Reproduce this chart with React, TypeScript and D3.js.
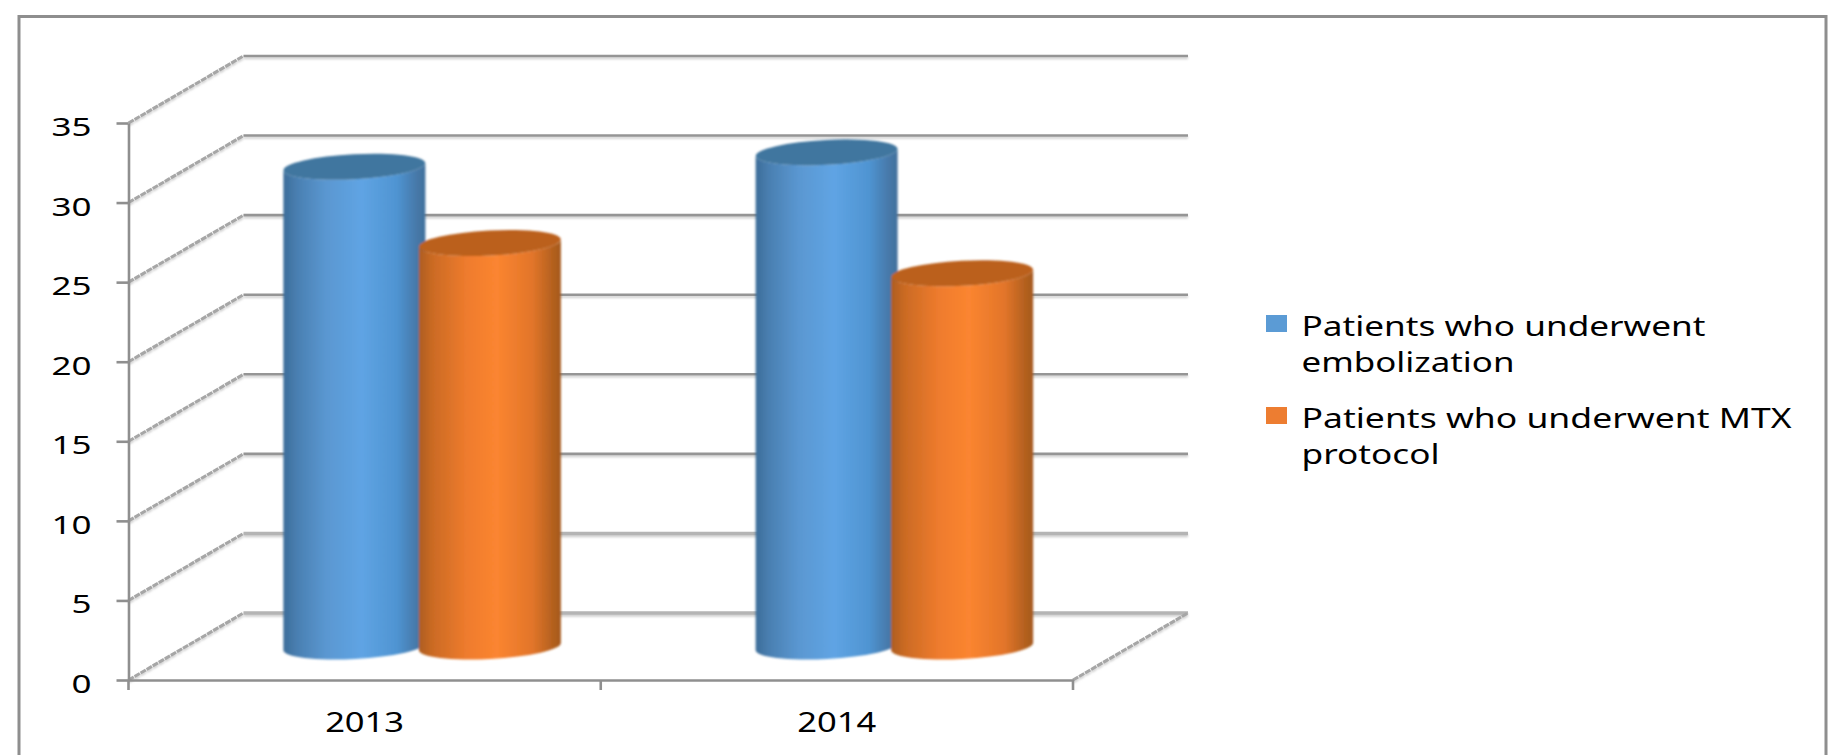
import * as React from "react"
import * as d3 from "d3"

const years = ["2013", "2014"]
const seriesNames = ["Patients who underwent embolization", "Patients who underwent MTX protocol"]
const embolization = [30.15, 31.05]
const mtxProtocol = [25.35, 23.45]
const yTicks = [0, 5, 10, 15, 20, 25, 30, 35]
const legendLines = [
  ["Patients who underwent", "embolization"],
  ["Patients who underwent MTX", "protocol"],
]

const width = 1837
const height = 755
const axisLeft = 128.5
const axisRight = 1073
const depthX = 115
const depthY = 67
const barRx = 71
const barRy = 12.5
const barTilt = -3
const barDepth = 0.5
const font = "'Noto Sans', sans-serif"

const blueStops = [
  [0, "#3d6d99"], [0.1, "#4a80b2"], [0.3, "#5a97d1"], [0.55, "#5fa4e4"],
  [0.8, "#4f94d2"], [0.94, "#4678a8"], [1, "#41719d"],
]
const orangeStops = [
  [0, "#ad5d1f"], [0.1, "#cc6b24"], [0.35, "#f07c2e"], [0.55, "#fb8530"],
  [0.8, "#e2752a"], [0.94, "#b5611f"], [1, "#a45920"],
]

export default function App() {
  const svgRef = React.useRef<SVGSVGElement>(null)

  React.useEffect(() => {
    if (!svgRef.current) return
    const svg = d3.select(svgRef.current)
    svg.selectAll("*").remove()

    const y = d3.scaleLinear().domain([0, 35]).range([680, 123])
    const x0 = d3.scaleBand().domain(years).range([axisLeft, axisRight])
    // the two cylinders overlap a little, so the inner band is narrower than the bars
    const x1 = d3.scaleBand().domain(seriesNames).range([-135.5, 135.5])

    const defs = svg.append("defs")
    const addGradient = (id: string, stops: (string | number)[][]) => {
      const g = defs.append("linearGradient").attr("id", id).attr("x1", 0).attr("x2", 1).attr("y1", 0).attr("y2", 0)
      stops.forEach((s) => g.append("stop").attr("offset", s[0]).attr("stop-color", s[1]))
    }
    addGradient("blueBody", blueStops)
    addGradient("orangeBody", orangeStops)
    const soft = defs.append("filter").attr("id", "soft").attr("x", "-5%").attr("y", "-5%").attr("width", "110%").attr("height", "110%")
    soft.append("feGaussianBlur").attr("stdDeviation", 1.1)
    const lineShadow = defs
      .append("filter").attr("id", "lineShadow")
      .attr("filterUnits", "userSpaceOnUse")
      .attr("x", 0).attr("y", 0).attr("width", width).attr("height", height)
    lineShadow.append("feGaussianBlur").attr("in", "SourceGraphic").attr("stdDeviation", 0.5)
    lineShadow.append("feDropShadow")
      .attr("dx", 0).attr("dy", 2).attr("stdDeviation", 1)
      .attr("flood-color", "#bbbbbb").attr("flood-opacity", 0.7)

    svg.append("rect").attr("width", width).attr("height", height).attr("fill", "#fff")

    // outer frame, its bottom edge is cut off in the picture
    svg.append("path")
      .attr("d", `M19,${height} V16.5 H1826 V${height}`)
      .attr("fill", "none")
      .attr("stroke", "#8e8e8e")
      .attr("stroke-width", 3)

    // back wall gridlines and the slanted side wall lines
    const walls = svg.append("g").attr("filter", "url(#lineShadow)")
    yTicks.forEach((t) => {
      walls.append("line")
        .attr("x1", axisLeft + depthX).attr("x2", axisRight + depthX)
        .attr("y1", y(t) - depthY).attr("y2", y(t) - depthY)
        .attr("stroke", t <= 5 ? "#b4b4b4" : "#959595")
        .attr("stroke-width", t <= 5 ? 3.5 : 2.6)
      walls.append("line")
        .attr("x1", axisLeft).attr("x2", axisLeft + depthX)
        .attr("y1", y(t)).attr("y2", y(t) - depthY)
        .attr("stroke", "#a6a6a6")
        .attr("stroke-width", 3)
        .attr("stroke-dasharray", "6 1")
    })
    walls.append("line")
      .attr("x1", axisRight).attr("x2", axisRight + depthX)
      .attr("y1", y(0)).attr("y2", y(0) - depthY)
      .attr("stroke", "#a6a6a6")
      .attr("stroke-width", 3)
      .attr("stroke-dasharray", "6 1")

    // axes
    const gy = svg.append("g")
      .attr("transform", `translate(${axisLeft},0)`)
      .call(d3.axisLeft(y).tickValues(yTicks).tickSize(12).tickPadding(25).tickSizeOuter(0))
    gy.selectAll("text")
      .attr("font-family", font)
      .attr("font-size", 26)
      .attr("fill", "#000")
      .attr("dy", 12.5)
      .attr("textLength", (d) => String(d).length * 20)
      .attr("lengthAdjust", "spacingAndGlyphs")

    const gx = svg.append("g")
      .attr("transform", `translate(0,${y(0)})`)
      .call(d3.axisBottom(x0).tickSize(0).tickPadding(33).tickSizeOuter(0))
    gx.selectAll("text")
      .attr("font-family", font)
      .attr("font-size", 27)
      .attr("fill", "#000")
      .attr("dy", 0)
      .attr("y", 52)
      .attr("textLength", 79)
      .attr("lengthAdjust", "spacingAndGlyphs")
    // category separators sit between the bands, not on the band centres
    const boundaries = [...years.map((c) => x0(c) as number), axisRight]
    gx.selectAll(".sep")
      .data(boundaries)
      .enter()
      .append("line")
      .attr("class", "sep")
      .attr("x1", (d) => d).attr("x2", (d) => d)
      .attr("y1", 0).attr("y2", 10)
    svg.selectAll(".domain, .tick line, .sep").attr("stroke", "#8f8f8f").attr("stroke-width", 2.6)

    // cylinders
    const bars = svg.append("g").attr("filter", "url(#soft)")
    const dy = barRx * Math.tan((barTilt * Math.PI) / 180)
    const drawBars = (values: number[], name: string, bodyId: string, topColor: string) => {
      values.forEach((v, i) => {
        const cx = (x0(years[i]) as number) + x0.bandwidth() / 2 + depthX * barDepth + (x1(name) as number) + x1.bandwidth() / 2
        const base = y(0) - depthY * barDepth
        const top = y(v) - depthY * barDepth
        const arc = `A${barRx},${barRy} ${barTilt} 0`
        bars.append("path")
          .attr("d", `M${cx - barRx},${top - dy} L${cx - barRx},${base - dy} ${arc} 0 ${cx + barRx},${base + dy} L${cx + barRx},${top + dy} ${arc} 1 ${cx - barRx},${top - dy} Z`)
          .attr("fill", `url(#${bodyId})`)
        bars.append("ellipse")
          .attr("rx", barRx).attr("ry", barRy)
          .attr("transform", `translate(${cx},${top}) rotate(${barTilt})`)
          .attr("fill", topColor)
      })
    }
    drawBars(embolization, seriesNames[0], "blueBody", "#41769f")
    drawBars(mtxProtocol, seriesNames[1], "orangeBody", "#bb601f")

    // legend
    const swatchColors = d3.scaleOrdinal<string>().domain(seriesNames).range(["#5b9bd5", "#ed7d31"])
    const lineWidths = [[404, 213], [490, 138]]
    const legendTop = d3.scaleOrdinal<number>().domain(seriesNames).range([315, 407])
    const legend = svg.append("g")
    seriesNames.forEach((name, i) => {
      legend.append("rect")
        .attr("x", 1266).attr("y", legendTop(name))
        .attr("width", 21).attr("height", 17)
        .attr("fill", swatchColors(name))
      legendLines[i].forEach((line, j) => {
        legend.append("text")
          .attr("x", 1301.5)
          .attr("y", legendTop(name) + 20.5 + j * 36.5)
          .attr("font-family", font)
          .attr("font-size", 26.5)
          .attr("fill", "#000")
          .attr("textLength", lineWidths[i][j])
          .attr("lengthAdjust", "spacingAndGlyphs")
          .text(line)
      })
    })
  }, [])

  return (
    <svg
      ref={svgRef}
      width={width}
      height={height}
      viewBox={`0 0 ${width} ${height}`}
      style={{ position: "fixed", left: 0, top: 0, display: "block" }}
    />
  )
}
